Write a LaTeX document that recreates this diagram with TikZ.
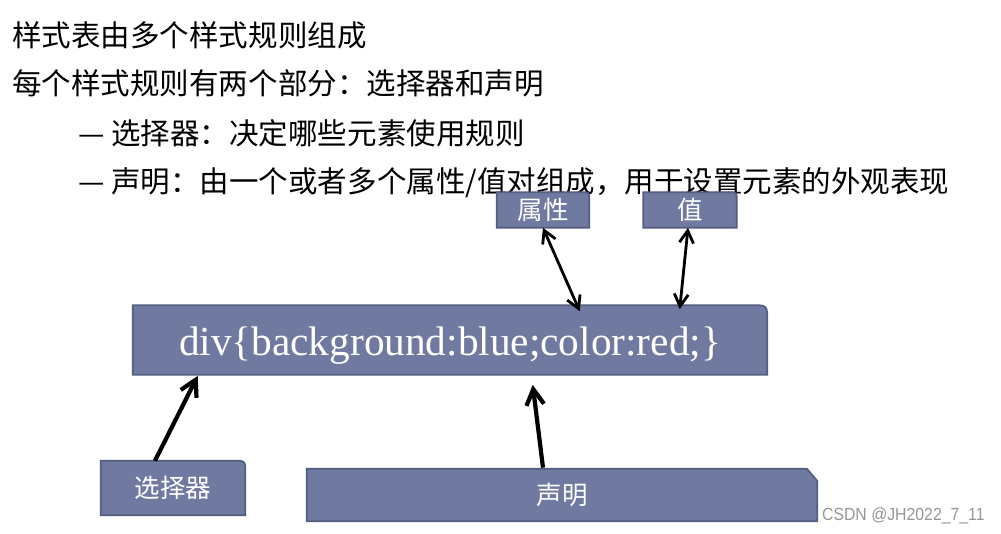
\documentclass[tikz,border=0pt]{standalone}
\usepackage{fontspec}
\setmainfont{Liberation Serif}
\newfontfamily\cjk{Noto Sans CJK SC}
\newfontfamily\wmfont[FakeStretch=0.9]{Liberation Sans}
\usepackage{xcolor}
\definecolor{boxblue}{RGB}{112,122,160}
\definecolor{boxedge}{RGB}{84,94,128}
\definecolor{wmgray}{RGB}{150,150,150}
\usepackage{tikz}
\usetikzlibrary{arrows.meta,calc,backgrounds}

\begin{document}
\begin{tikzpicture}[x=0.02cm,y=-0.02cm,
      line/.style={font=\cjk\fontsize{16.8}{20}\selectfont,anchor=west,inner sep=0},
      tab/.style={text=white,inner sep=0,font=\cjk\fontsize{14.5}{17}\selectfont},
      tabfill/.style={fill=boxblue,draw=boxedge,line width=1pt},
      dbl/.style={{Straight Barb[length=7pt,width=8pt]}-{Straight Barb[length=7pt,width=8pt]},line width=1.6pt},
      up/.style={-{Straight Barb[length=9pt,width=10pt]},line width=2.4pt}]
  \useasboundingbox (0,0) rectangle (1001,534);
  \begin{scope}[on background layer]
    \fill[white] (0,0) rectangle (1001,534);
    \node[line] (l1) at (12,35) {样式表由多个样式规则组成};
    \node[line] (l2) at (12,83) {每个样式规则有两个部分：选择器和声明};
    \node[line] (l3) at (78,133) {— 选择器：决定哪些元素使用规则};
    \node[line] (l4) at (78,183) {— 声明：由一个或者多个属性/值对组成，用于设置元素的外观表现};
  \end{scope}

  \node[tab,minimum width=12.68cm,minimum height=1.38cm,text height=24pt,text depth=6pt,font=\fontsize{23.5}{26}\selectfont] (rule) at (450,340) {div\{background:blue;color:red;\}};
  \node[tab,minimum width=1.84cm,minimum height=0.7cm] (prop) at (543,210) {属性};
  \node[tab,minimum width=1.86cm,minimum height=0.7cm] (val) at (690,210) {值};
  \node[tab,minimum width=2.88cm,minimum height=1.08cm] (sel) at (173,488) {选择器};
  \node[tab,minimum width=10.2cm,minimum height=1.04cm] (decl) at (562,495) {声明};
  \node[anchor=east,inner sep=0,text=wmgray,font=\wmfont\fontsize{10}{12}\selectfont] (mark) at (985,516) {CSDN @JH2022\_7\_11};

  % box shapes, one corner cut or rounded
  \begin{scope}[on background layer]
    \draw[tabfill] (rule.south west) -- (rule.north west) -- ([xshift=-9pt]rule.north east) .. controls (rule.north east) .. ([yshift=-9pt]rule.north east) -- (rule.south east) -- cycle;
    \draw[tabfill] (prop.south west) -- (prop.north west) -- ([xshift=-5pt]prop.north east) .. controls (prop.north east) .. ([yshift=-5pt]prop.north east) -- (prop.south east) -- cycle;
    \draw[tabfill] (val.south west) -- (val.north west) -- ([xshift=-5pt]val.north east) .. controls (val.north east) .. ([yshift=-5pt]val.north east) -- (val.south east) -- cycle;
    \draw[tabfill] (sel.south west) -- (sel.north west) -- ([xshift=-7pt]sel.north east) .. controls (sel.north east) .. ([yshift=-7pt]sel.north east) -- (sel.south east) -- cycle;
    \draw[tabfill] (decl.south west) -- (decl.north west) -- ([xshift=-6pt]decl.north east) -- ([yshift=-7pt]decl.north east) -- (decl.south east) -- cycle;
  \end{scope}

  \draw[dbl] (prop.south) -- ($(rule.north west)+(447,6)$);
  \draw[dbl] ($(val.south)+(-2,0)$) -- ($(rule.north west)+(547,4)$);
  \draw[up] ($(sel.north)+(-18,0)$) -- ($(rule.south west)+(65,1)$);
  \draw[up] ($(decl.north)+(-19,-1)$) -- ($(rule.south west)+(400,10)$);
\end{tikzpicture}
\end{document}
